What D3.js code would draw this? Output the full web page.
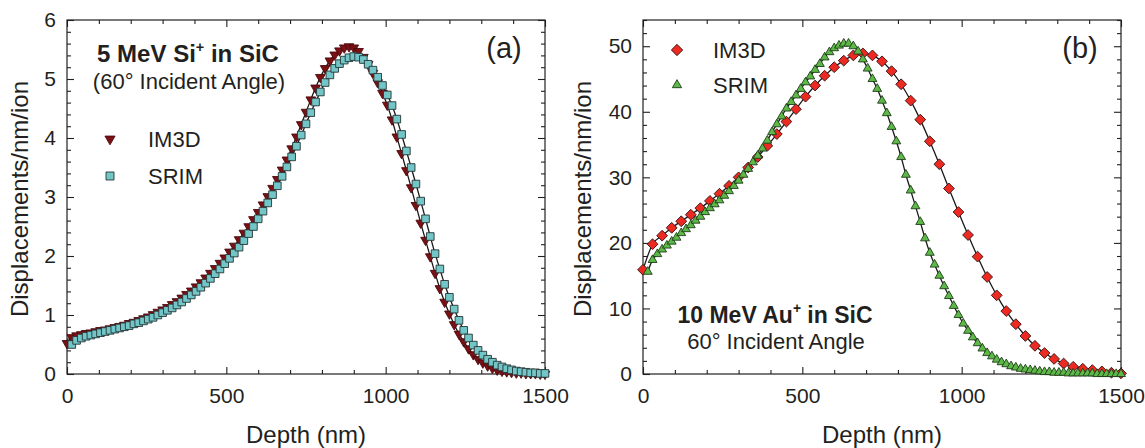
<!DOCTYPE html>
<html>
<head>
<meta charset="utf-8">
<script src="https://cdn.jsdelivr.net/npm/d3@7"></script>
<style>
  body { margin: 0; background: #fff; }
  svg text { font-family: "Liberation Sans", Arial, sans-serif; fill: #231f20; }
</style>
</head>
<body>
<div id="chart"></div>
<script>
// depth grids (nm)
const depthA_IM3D = d3.range(0, 1501, 15);
const depthA_SRIM = d3.range(15, 1501, 15);
const depthB_IM3D = d3.range(0, 1501, 30);
const depthB_SRIM = d3.range(15, 1501, 15);

// (a) 5 MeV Si+ in SiC, displacements/nm/ion
const a_IM3D = [0.52,0.62,0.65,0.67,0.69,0.70,0.72,0.74,0.75,0.77,
  0.79,0.81,0.83,0.86,0.88,0.91,0.94,0.97,1.01,1.05,
  1.09,1.13,1.18,1.23,1.29,1.35,1.41,1.48,1.55,1.63,
  1.71,1.79,1.88,1.97,2.07,2.17,2.28,2.39,2.50,2.62,
  2.74,2.87,3.01,3.15,3.30,3.46,3.63,3.82,4.02,4.23,
  4.44,4.65,4.85,5.03,5.18,5.31,5.41,5.48,5.53,5.55,
  5.53,5.47,5.37,5.25,5.10,4.94,4.76,4.56,4.31,4.02,
  3.74,3.45,3.16,2.86,2.56,2.27,1.99,1.71,1.45,1.22,
  1.02,0.84,0.68,0.55,0.43,0.33,0.25,0.19,0.14,0.10,
  0.07,0.05,0.04,0.03,0.02,0.02,0.01,0.01,0.01,0.00,0.00];
const a_SRIM = [0.50,0.57,0.61,0.64,0.66,0.68,0.70,0.72,0.74,0.76,
  0.78,0.80,0.82,0.85,0.87,0.90,0.93,0.96,1.00,1.04,
  1.08,1.12,1.17,1.22,1.28,1.34,1.40,1.47,1.54,1.62,
  1.70,1.78,1.87,1.96,2.05,2.15,2.26,2.38,2.50,2.63,
  2.76,2.90,3.04,3.19,3.35,3.51,3.68,3.86,4.05,4.24,
  4.43,4.61,4.78,4.94,5.07,5.18,5.26,5.32,5.36,5.38,
  5.37,5.33,5.25,5.15,5.03,4.89,4.73,4.55,4.32,4.06,
  3.78,3.50,3.22,2.93,2.63,2.33,2.04,1.78,1.52,1.30,
  1.10,0.91,0.74,0.61,0.49,0.40,0.32,0.25,0.20,0.15,
  0.12,0.09,0.07,0.05,0.04,0.03,0.02,0.02,0.01,0.01];

// (b) 10 MeV Au+ in SiC
const b_IM3D = [15.9,19.8,21.1,22.3,23.3,24.3,25.3,26.4,27.5,28.7,
  30.0,31.5,33.1,34.8,36.6,38.5,40.4,42.3,44.0,45.5,
  46.8,47.8,48.6,48.9,48.6,47.7,46.2,44.2,41.7,38.8,
  35.5,32.0,28.3,24.7,21.2,17.9,14.8,12.0,9.6,7.6,
  5.8,4.3,3.2,2.3,1.6,1.1,0.8,0.6,0.4,0.2,0.1];
const b_SRIM = [15.6,17.4,18.3,19.0,19.6,20.2,20.8,21.5,22.1,22.7,
  23.4,24.0,24.7,25.3,25.9,26.5,27.2,27.9,28.7,29.5,
  30.4,31.3,32.3,33.3,34.4,35.6,36.9,38.1,39.3,40.5,
  41.5,42.5,43.5,44.5,45.4,46.4,47.3,48.3,49.1,49.7,
  50.1,50.4,50.4,50.0,49.2,48.0,46.6,45.0,43.5,41.7,
  39.8,37.7,35.5,33.1,30.4,28.0,25.6,23.2,20.7,18.5,
  16.7,15.0,13.4,11.9,10.4,9.0,7.7,6.6,5.6,4.7,
  3.9,3.2,2.7,2.2,1.8,1.5,1.2,1.0,0.8,0.7,
  0.6,0.5,0.4,0.3,0.3,0.2,0.2,0.2,0.1,0.1,
  0.1,0.1,0.1,0.1,0.0,0.0,0.0,0.0,0.0,0.0];

const xTicks = [0, 500, 1000, 1500];
const aYTicks = [0, 1, 2, 3, 4, 5, 6];
const bYTicks = [0, 10, 20, 30, 40, 50];

const W = 1145, H = 448;
const svg = d3.select("#chart").append("svg")
  .attr("width", W).attr("height", H);

const panels = [
  {
    left: 67, top: 20, width: 478, height: 354,
    yMax: 6, yTicks: aYTicks, yMinor: 0.2,
    letter: "(a)",
    series: [
      { name: "IM3D", depth: depthA_IM3D, vals: a_IM3D, shape: "tri-down", fill: "#7b1014", stroke: "#4a080b", size: 40 },
      { name: "SRIM", depth: depthA_SRIM, vals: a_SRIM, shape: "square", fill: "#72c6c8", stroke: "#263434", size: 58 }
    ],
    legend: { x: 110, y: 139, dy: 37, tx: 148 },
    title: { main: "5 MeV Si", rest: " in SiC", sub: "(60° Incident Angle)", x: 188, y: 62, subY: 89, size: 24 },
    ylabX: 28
  },
  {
    left: 643, top: 20, width: 478, height: 354,
    yMax: 54, yTicks: bYTicks, yMinor: 2,
    letter: "(b)",
    series: [
      { name: "IM3D", depth: depthB_IM3D, vals: b_IM3D, shape: "diamond", fill: "#ec2a22", stroke: "#3b1515", size: 58 },
      { name: "SRIM", depth: depthB_SRIM, vals: b_SRIM, shape: "tri-up", fill: "#5db847", stroke: "#1e3d18", size: 34 }
    ],
    legend: { x: 677, y: 50, dy: 35, tx: 713 },
    title: { main: "10 MeV Au", rest: " in SiC", sub: "60° Incident Angle", x: 775, y: 323, subY: 349, size: 23 },
    ylabX: 591
  }
];

function symbolPath(shape, size) {
  if (shape === "square" || shape === "diamond") return d3.symbol(d3.symbolSquare, size)();
  return d3.symbol(d3.symbolTriangle, size)();
}
function symbolRot(shape) {
  if (shape === "diamond") return 45;
  if (shape === "tri-down") return 180;
  return 0;
}

panels.forEach(p => {
  const g = svg.append("g").attr("transform", `translate(${p.left},${p.top})`);
  const x = d3.scaleLinear().domain([0, 1500]).range([0, p.width]);
  const y = d3.scaleLinear().domain([0, p.yMax]).range([p.height, 0]);

  const minorX = d3.range(0, 1501, 100).filter(v => v % 500 !== 0);
  const minorY = d3.range(0, p.yMax + 1e-9, p.yMinor)
    .filter(v => !p.yTicks.some(t => Math.abs(t - v) < 1e-6));

  // inward ticks on all four sides
  const axes = [
    g.append("g").attr("transform", `translate(0,${p.height})`)
      .call(d3.axisBottom(x).tickValues(xTicks).tickSizeInner(-7).tickSizeOuter(0).tickPadding(14).tickFormat(d3.format("d"))),
    g.append("g").attr("transform", `translate(0,${p.height})`)
      .call(d3.axisBottom(x).tickValues(minorX).tickSizeInner(-4).tickSizeOuter(0).tickFormat("")),
    g.append("g").call(d3.axisTop(x).tickValues(xTicks).tickSizeInner(-7).tickSizeOuter(0).tickFormat("")),
    g.append("g").call(d3.axisTop(x).tickValues(minorX).tickSizeInner(-4).tickSizeOuter(0).tickFormat("")),
    g.append("g").call(d3.axisLeft(y).tickValues(p.yTicks).tickSizeInner(-7).tickSizeOuter(0).tickPadding(11).tickFormat(d3.format("d"))),
    g.append("g").call(d3.axisLeft(y).tickValues(minorY).tickSizeInner(-4).tickSizeOuter(0).tickFormat("")),
    g.append("g").attr("transform", `translate(${p.width},0)`)
      .call(d3.axisRight(y).tickValues(p.yTicks).tickSizeInner(-7).tickSizeOuter(0).tickFormat("")),
    g.append("g").attr("transform", `translate(${p.width},0)`)
      .call(d3.axisRight(y).tickValues(minorY).tickSizeInner(-4).tickSizeOuter(0).tickFormat(""))
  ];
  axes.forEach(a => {
    a.select(".domain").remove();
    a.selectAll("line").attr("stroke", "#231f20").attr("stroke-width", 1.1);
    a.selectAll("text").attr("font-size", 21).attr("fill", "#231f20")
      .attr("font-family", '"Liberation Sans", Arial, sans-serif');
  });

  g.append("rect").attr("width", p.width).attr("height", p.height)
    .attr("fill", "none").attr("stroke", "#231f20").attr("stroke-width", 1.2);

  const line = d3.line().x(d => x(d[0])).y(d => y(d[1])).curve(d3.curveMonotoneX);

  p.series.forEach(s => {
    const pts = s.depth.map((d, i) => [d, s.vals[i]]);
    g.append("path").datum(pts).attr("d", line)
      .attr("fill", "none").attr("stroke", "#1a1a1a").attr("stroke-width", 1.3);
  });
  p.series.forEach(s => {
    const pts = s.depth.map((d, i) => [d, s.vals[i]]);
    g.append("g").selectAll("path").data(pts).join("path")
      .attr("d", symbolPath(s.shape, s.size))
      .attr("transform", d => `translate(${x(d[0])},${y(d[1])}) rotate(${symbolRot(s.shape)})`)
      .attr("fill", s.fill).attr("stroke", s.stroke).attr("stroke-width", 0.9);
  });

  // legend
  p.series.forEach((s, i) => {
    const ly = p.legend.y + i * p.legend.dy;
    svg.append("path").attr("d", symbolPath(s.shape, s.size * 1.1))
      .attr("transform", `translate(${p.legend.x},${ly}) rotate(${symbolRot(s.shape)})`)
      .attr("fill", s.fill).attr("stroke", s.stroke).attr("stroke-width", 0.9);
    svg.append("text").attr("x", p.legend.tx).attr("y", ly).attr("dy", "0.36em")
      .attr("font-size", 22).text(s.name);
  });

  // annotations
  const t = svg.append("text").attr("x", p.title.x).attr("y", p.title.y)
    .attr("text-anchor", "middle").attr("font-size", p.title.size).attr("font-weight", "bold");
  t.append("tspan").text(p.title.main);
  t.append("tspan").attr("font-size", p.title.size * 0.6).attr("dy", -p.title.size * 0.42).text("+");
  t.append("tspan").attr("dy", p.title.size * 0.42).text(p.title.rest);
  svg.append("text").attr("x", p.title.x + 1).attr("y", p.title.subY)
    .attr("text-anchor", "middle").attr("font-size", 22).text(p.title.sub);

  svg.append("text").attr("x", p.left + p.width - 41).attr("y", p.top + 38)
    .attr("text-anchor", "middle").attr("font-size", 29).text(p.letter);

  svg.append("text").attr("x", p.left + p.width / 2).attr("y", 443)
    .attr("text-anchor", "middle").attr("font-size", 24).text("Depth (nm)");
  svg.append("text").attr("transform", `translate(${p.ylabX},${p.top + p.height / 2 + 2}) rotate(-90)`)
    .attr("text-anchor", "middle").attr("font-size", 24).text("Displacements/nm/ion");
});
</script>
</body>
</html>
